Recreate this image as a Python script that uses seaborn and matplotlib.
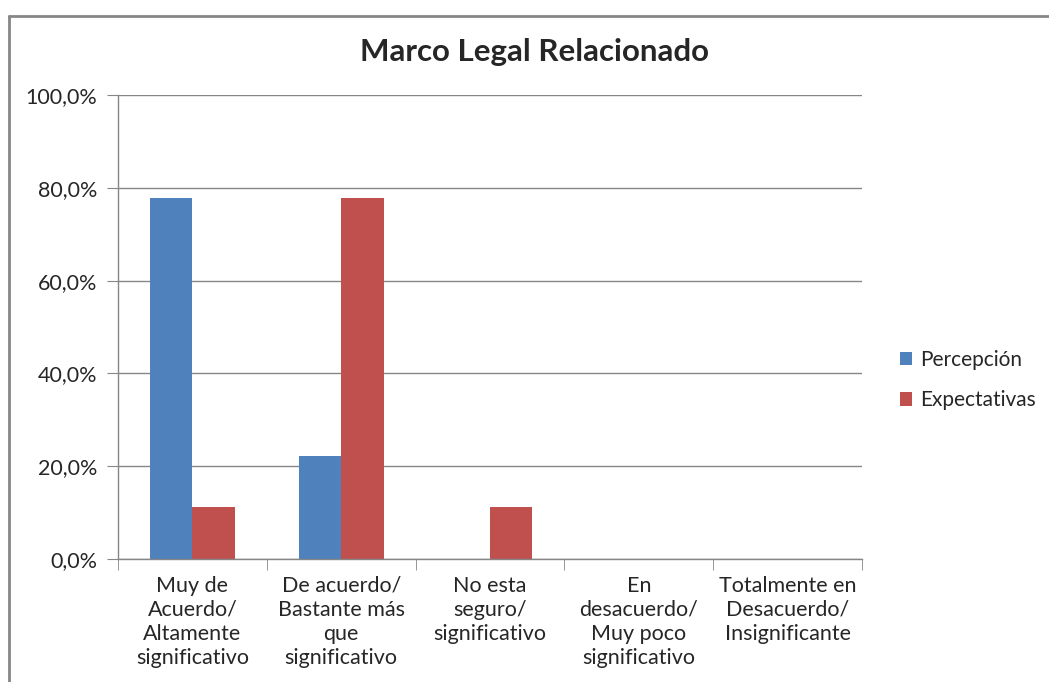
import seaborn as sns
import pandas as pd
from matplotlib import pyplot as plt
import matplotlib.ticker as mtick
from matplotlib.lines import Line2D

categories = ['Muy de\nAcuerdo/\nAltamente\nsignificativo',
              'De acuerdo/\nBastante más\nque\nsignificativo',
              'No esta\nseguro/\nsignificativo',
              'En\ndesacuerdo/\nMuy poco\nsignificativo',
              'Totalmente en\nDesacuerdo/\nInsignificante']
percepcion = [77.8, 22.2, 0.0, 0.0, 0.0]
expectativas = [11.1, 77.8, 11.1, 0.0, 0.0]
series = ['Percepción', 'Expectativas']
colors = ['#4F81BD', '#C0504D']

df = pd.DataFrame({
    'cat': categories * 2,
    'val': percepcion + expectativas,
    'serie': [series[0]] * 5 + [series[1]] * 5,
})

sns.set_style('white')
plt.rcParams['font.family'] = ['Lato', 'DejaVu Sans']

fig = plt.figure(figsize=(10.49, 6.82), dpi=100)
ax = fig.add_axes([118 / 1049, 1 - 559 / 682, (862 - 118) / 1049, (559 - 95) / 682])

sns.barplot(data=df, x='cat', y='val', hue='serie', palette=colors,
            width=0.57, saturation=1, ax=ax, edgecolor='none')

ax.set_ylim(0, 100)
ax.set_xlim(-0.5, 4.5)
ax.set_yticks([0, 20, 40, 60, 80, 100])
ax.yaxis.set_major_formatter(mtick.FuncFormatter(lambda v, p: f'{v:.1f}%'.replace('.', ',')))
ax.yaxis.grid(True, color='#868686', lw=1)
ax.set_axisbelow(True)
ax.set_xlabel('')
ax.set_ylabel('')

for s in ['top', 'right']:
    ax.spines[s].set_visible(False)
for s in ['left', 'bottom']:
    ax.spines[s].set_color('#868686')
    ax.spines[s].set_linewidth(1)

ax.tick_params(axis='y', length=8, color='#868686', labelsize=15.5, pad=7, left=True)
ax.tick_params(axis='x', which='major', length=0, labelsize=15.5, pad=12)
ax.set_xticks([-0.5, 0.5, 1.5, 2.5, 3.5, 4.5], minor=True)
ax.tick_params(axis='x', which='minor', length=8, color='#868686', bottom=True)
for t in ax.get_xticklabels():
    t.set_linespacing(1.26)

fig.text(535 / 1049, 1 - 52 / 682, 'Marco Legal Relacionado', ha='center', va='center',
         fontsize=22.5, fontweight='bold')

ax.legend(loc='center left', bbox_to_anchor=(881 / 1049, 1 - 380 / 682),
          bbox_transform=fig.transFigure, frameon=False, fontsize=15,
          handlelength=0.6, handleheight=0.6, handletextpad=0.4, labelspacing=1.0)

fig.add_artist(Line2D([9 / 1049, 1.0], [1 - 16 / 682, 1 - 16 / 682], color='#868686', lw=2))
fig.add_artist(Line2D([9 / 1049, 9 / 1049], [0.0, 1 - 16 / 682], color='#868686', lw=2))

fig.savefig('out.png', dpi=100)
